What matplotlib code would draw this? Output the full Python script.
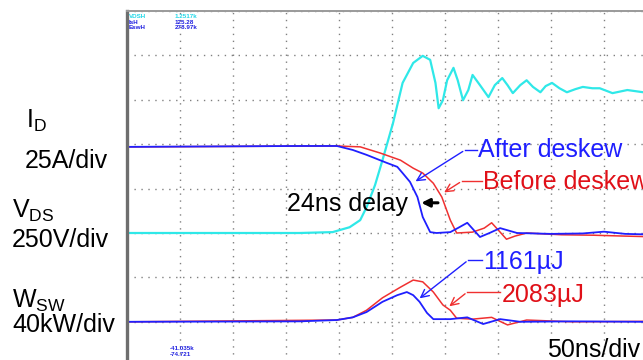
import matplotlib.pyplot as plt

plt.rcParams["font.family"] = ["Liberation Sans", "DejaVu Sans"]
plt.rcParams["mathtext.fontset"] = "custom"
plt.rcParams["mathtext.rm"] = "Liberation Sans"

# time in ns (50 ns/div), values in scope divisions (0 = bottom graticule line)
id_after_t = [1, 163, 198, 213, 226, 245, 255, 260, 267, 274, 279, 286, 292, 305, 312, 321,
              327, 333, 342, 352, 368, 400, 430, 450, 470, 487]
id_after_v = [4.94, 4.96, 4.96, 4.87, 4.76, 4.58, 4.49, 4.35, 4.15, 3.81, 3.36, 3.02, 3.0,
              3.02, 3.11, 3.23, 3.07, 2.91, 3.0, 3.11, 3.0, 2.98, 2.99, 3.03, 2.98, 2.97]

id_before_t = [1, 198, 220, 239, 258, 270, 279, 289, 297, 305, 311, 326, 337, 344, 352, 358,
               366, 377, 410, 440, 470, 487]
id_before_v = [4.94, 4.96, 4.94, 4.8, 4.64, 4.46, 4.35, 4.12, 3.81, 3.29, 3.0, 3.02, 3.11,
               3.23, 3.02, 2.86, 2.93, 3.0, 2.96, 2.95, 2.93, 2.92]

vds_t = [1, 163, 194, 210, 220, 226, 234, 241, 251, 260, 270, 279, 286, 291, 294, 298, 302,
         308, 312, 317, 322, 326, 333, 341, 347, 354, 359, 364, 371, 377, 383, 390, 395, 401,
         408, 415, 423, 430, 439, 446, 458, 472, 487]
vds_v = [3.0, 3.0, 3.02, 3.13, 3.29, 3.58, 4.08, 4.64, 5.48, 6.38, 6.83, 6.99, 6.9, 6.38,
         5.81, 5.99, 6.44, 6.72, 6.44, 5.99, 6.22, 6.56, 6.33, 6.06, 6.33, 6.49, 6.33, 6.15,
         6.33, 6.44, 6.29, 6.17, 6.31, 6.38, 6.26, 6.17, 6.24, 6.29, 6.26, 6.26, 6.15, 6.22,
         6.17]

wsw_after_t = [1, 163, 198, 213, 226, 241, 255, 264, 270, 276, 283, 289, 305, 321, 336, 352,
               371, 420, 487]
wsw_after_v = [1.0, 1.01, 1.04, 1.1, 1.22, 1.45, 1.6, 1.67, 1.6, 1.45, 1.2, 1.06, 1.06, 1.1,
               0.95, 1.06, 1.0, 1.01, 1.0]

wsw_before_t = [1, 198, 213, 226, 241, 258, 270, 279, 289, 298, 305, 311, 326, 344, 359, 377,
                420, 487]
wsw_before_v = [1.0, 1.04, 1.1, 1.26, 1.54, 1.78, 1.94, 1.9, 1.67, 1.38, 1.26, 1.08, 1.06,
                1.1, 0.93, 1.04, 1.0, 1.01]

blue = "#1f1fff"
red = "#f03030"
cyan = "#2fe8e8"

fig = plt.figure(figsize=(6.43, 3.60), dpi=100)
ax = fig.add_axes([127 / 643, -6.2 / 360, 530 / 643, 355.2 / 360])
ax.set_xlim(0, 500)
ax.set_ylim(0, 8)
ax.set_xticks(range(0, 501, 50))
ax.set_yticks(range(0, 9))
ax.tick_params(length=0, labelbottom=False, labelleft=False)
ax.grid(True, ls=(0, (1, 4)), color="#808080", lw=1)
for s in ["right", "bottom"]:
    ax.spines[s].set_visible(False)
ax.spines["left"].set_color("#6e6e6e")
ax.spines["left"].set_linewidth(2.4)
ax.spines["top"].set_color("#9a9a9a")
ax.spines["top"].set_linewidth(1.4)

ax.plot(vds_t, vds_v, color=cyan, lw=1.6)
ax.plot(id_before_t, id_before_v, color=red, lw=1.1)
ax.plot(id_after_t, id_after_v, color=blue, lw=1.3)
ax.plot(wsw_before_t, wsw_before_v, color=red, lw=1.1)
ax.plot(wsw_after_t, wsw_after_v, color=blue, lw=1.3)

fs = 18
arrow = dict(arrowstyle="->", lw=1, mutation_scale=14)

# After deskew
ax.plot([319, 330], [4.87, 4.87], color=blue, lw=1)
ax.annotate("", xy=(270, 4.13), xytext=(319, 4.87), arrowprops=dict(arrow, color=blue))
ax.text(331, 4.87, "After deskew", color=blue, fontsize=fs, va="center")

# Before deskew
ax.plot([316, 335], [4.17, 4.17], color=red, lw=1)
ax.annotate("", xy=(297, 3.88), xytext=(316, 4.17), arrowprops=dict(arrow, color=red))
ax.text(336, 4.14, "Before deskew", color="#e01018", fontsize=fs, va="center", clip_on=False)

# delay
ax.text(265, 3.65, "24ns delay", color="black", fontsize=fs, va="center", ha="right")
ax.annotate("", xy=(275, 3.68), xytext=(296, 3.68),
            arrowprops=dict(arrowstyle="-|>", lw=2.2, color="black", mutation_scale=12))

# energies
ax.plot([322, 335], [2.39, 2.39], color=blue, lw=1)
ax.annotate("", xy=(274, 1.49), xytext=(322, 2.39), arrowprops=dict(arrow, color=blue))
ax.text(336, 2.35, "1161µJ", color=blue, fontsize=fs, va="center")

ax.plot([321, 352], [1.67, 1.67], color=red, lw=1)
ax.annotate("", xy=(302, 1.31), xytext=(321, 1.67), arrowprops=dict(arrow, color=red))
ax.text(354, 1.6, "2083µJ", color="#e01018", fontsize=fs, va="center")

fig.text(547 / 643, 1 - 357 / 360, "50ns/div", fontsize=fs, va="baseline")

# channel scale labels
fig.text(26 / 643, 1 - 128 / 360, r"I$_{\mathregular{D}}$", fontsize=fs, va="baseline")
fig.text(25 / 643, 1 - 168 / 360, "25A/div", fontsize=fs, va="baseline")
fig.text(12 / 643, 1 - 218 / 360, r"V$_{\mathregular{DS}}$", fontsize=fs, va="baseline")
fig.text(12 / 643, 1 - 247 / 360, "250V/div", fontsize=fs, va="baseline")
fig.text(12 / 643, 1 - 308 / 360, r"W$_{\mathregular{SW}}$", fontsize=fs, va="baseline")
fig.text(12 / 643, 1 - 332 / 360, "40kW/div", fontsize=fs, va="baseline")

# scope measurement readouts
small = dict(fontsize=4.5, fontweight="bold", va="baseline")
fig.text(129 / 643, 1 - 18 / 360, "VDSH", color="#20d8e8", **small)
fig.text(175 / 643, 1 - 18 / 360, "1.2517k", color="#20d8e8", **small)
fig.text(129 / 643, 1 - 23.5 / 360, "IsH", color="#2020e0", **small)
fig.text(175 / 643, 1 - 23.5 / 360, "125.28", color="#2020e0", **small)
fig.text(129 / 643, 1 - 29 / 360, "EswH", color="#2020e0", **small)
fig.text(175 / 643, 1 - 29 / 360, "278.97k", color="#2020e0", **small)
fig.text(170 / 643, 1 - 350 / 360, "-41.035k", color="#2020e0", **small)
fig.text(170 / 643, 1 - 356 / 360, "-74.721", color="#2020e0", **small)

fig.savefig("out.png", dpi=100)
